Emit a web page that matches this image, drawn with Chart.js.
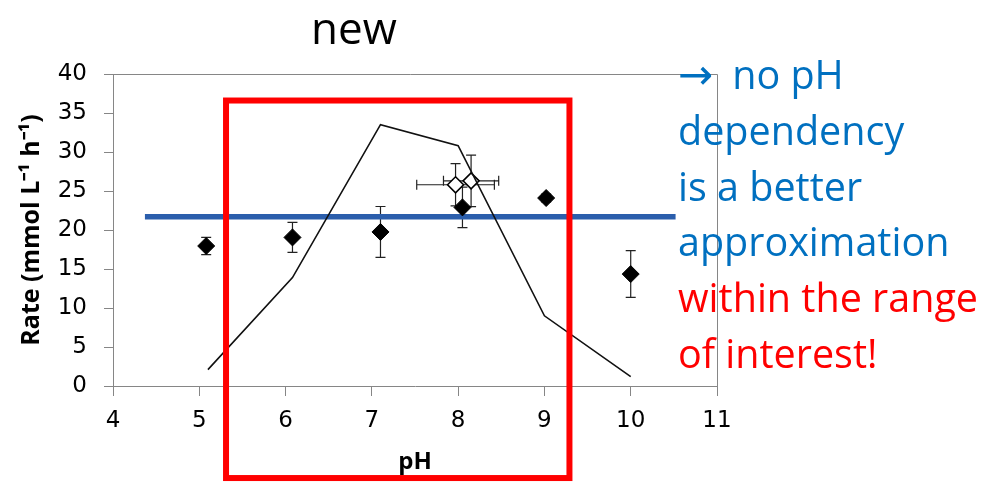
<!DOCTYPE html>
<html>
<head>
<meta charset="utf-8">
<script src="https://cdn.jsdelivr.net/npm/chart.js@4/dist/chart.umd.min.js"></script>
<style>
  body { margin: 0; background: #fff; }
  #wrap { position: relative; width: 1000px; height: 486px; overflow: hidden; }
  #wrap canvas { position: absolute; left: 0; top: 0; }
  .title { position: absolute; left: 254px; width: 200px; top: 5px; text-align: center;
           font: 44px "Open Sans", sans-serif; line-height: 44px; color: #000; }
  .note { position: absolute; left: 678px; top: 47px; font: 39.5px "Open Sans", sans-serif;
          line-height: 55.8px; white-space: nowrap; }
  .arrow { font-family: "DejaVu Sans"; font-size: 42px; margin-right: 19px; }
  .blue { color: #0070c0; }
  .red { color: #ff0000; }
</style>
</head>
<body>
<div id="wrap">
  <canvas id="rateChart"></canvas>
  <div class="title">new</div>
  <div class="note">
    <div class="blue"><span class="arrow">→</span>no pH</div>
    <div class="blue">dependency</div>
    <div class="blue">is a better</div>
    <div class="blue">approximation</div>
    <div class="red">within the range</div>
    <div class="red">of interest!</div>
  </div>
</div>
<script>
// ====== DATOS ======
const phMeasured = [5.08, 6.08, 7.10, 8.05, 9.02, 10.0];
const rateMeasured = [17.95, 19.05, 19.75, 22.9, 24.1, 14.35];
const rateMeasuredErr = [1.1, 1.93, 3.26, 2.6, 0.5, 3.0];

const phNew = [7.97, 8.15];
const rateNew = [25.8, 26.3];
const rateNewErr = [2.7, 3.3];
const phNewErr = [0.45, 0.32];

const phModel = [5.1, 6.08, 7.1, 8.0, 9.0, 10.0];
const rateModel = [2.1, 13.9, 33.5, 30.8, 9.0, 1.2];

const phFlat = [4.37, 10.52];
const rateFlat = [21.7, 21.7];

// rango de interés (cuadro rojo), en unidades de los ejes
const boxPh = [5.31, 9.29];
const boxRate = [-11.8, 36.6];

const xTicks = [4, 5, 6, 7, 8, 9, 10, 11];
const yTicks = [0, 5, 10, 15, 20, 25, 30, 35, 40];

const toPoints = (xs, ys) => xs.map((x, i) => ({ x: x, y: ys[i] }));
const axisGray = "#868686";

// ====== BARRAS DE ERROR ======
const errorBars = {
    id: "errorBars",
    beforeDatasetsDraw(chart) {
        const { ctx, scales: { x, y } } = chart;
        ctx.save();
        ctx.strokeStyle = "#222";
        ctx.lineWidth = 1.2;
        chart.data.datasets.forEach(ds => {
            if (!ds.yErr && !ds.xErr) return;
            ds.data.forEach((p, i) => {
                const px = x.getPixelForValue(p.x);
                const py = y.getPixelForValue(p.y);
                ctx.beginPath();
                if (ds.yErr) {
                    const top = y.getPixelForValue(p.y + ds.yErr[i]);
                    const bot = y.getPixelForValue(p.y - ds.yErr[i]);
                    ctx.moveTo(px, top); ctx.lineTo(px, bot);
                    ctx.moveTo(px - 5, top); ctx.lineTo(px + 5, top);
                    ctx.moveTo(px - 5, bot); ctx.lineTo(px + 5, bot);
                }
                if (ds.xErr) {
                    const l = x.getPixelForValue(p.x - ds.xErr[i]);
                    const r = x.getPixelForValue(p.x + ds.xErr[i]);
                    ctx.moveTo(l, py); ctx.lineTo(r, py);
                    ctx.moveTo(l, py - 5); ctx.lineTo(l, py + 5);
                    ctx.moveTo(r, py - 5); ctx.lineTo(r, py + 5);
                }
                ctx.stroke();
            });
        });
        ctx.restore();
    }
};

// ====== MARCO Y CUADRO ROJO ======
const frameAndBox = {
    id: "frameAndBox",
    beforeDatasetsDraw(chart) {
        const { ctx, chartArea: a } = chart;
        ctx.save();
        ctx.strokeStyle = axisGray;
        ctx.lineWidth = 1;
        ctx.beginPath();
        ctx.moveTo(a.left - 9, a.top + 0.5);
        ctx.lineTo(a.right + 0.5, a.top + 0.5);
        ctx.lineTo(a.right + 0.5, a.bottom);
        ctx.stroke();
        ctx.restore();
    },
    afterDraw(chart) {
        const { ctx, scales: { x, y } } = chart;
        const l = x.getPixelForValue(boxPh[0]);
        const r = x.getPixelForValue(boxPh[1]);
        const t = y.getPixelForValue(boxRate[1]);
        const b = y.getPixelForValue(boxRate[0]);
        ctx.save();
        ctx.strokeStyle = "#ff0000";
        ctx.lineWidth = 6;
        ctx.strokeRect(l, t, r - l, b - t);
        ctx.restore();
    }
};

new Chart(document.getElementById("rateChart"), {
    type: "scatter",
    data: {
        datasets: [
            {
                label: "model",
                data: toPoints(phModel, rateModel),
                showLine: true,
                borderColor: "#111",
                borderWidth: 1.6,
                pointRadius: 0,
                order: 0
            },
            {
                label: "measured",
                data: toPoints(phMeasured, rateMeasured),
                yErr: rateMeasuredErr,
                pointStyle: "rectRot",
                pointRadius: 8.5,
                backgroundColor: "#000",
                borderColor: "#000",
                borderWidth: 1,
                order: 1
            },
            {
                label: "new",
                data: toPoints(phNew, rateNew),
                yErr: rateNewErr,
                xErr: phNewErr,
                pointStyle: "rectRot",
                pointRadius: 8,
                backgroundColor: "#fff",
                borderColor: "#000",
                borderWidth: 1.6,
                order: 2
            },
            {
                label: "flat",
                data: toPoints(phFlat, rateFlat),
                showLine: true,
                borderColor: "#2b5eac",
                borderWidth: 5.5,
                pointRadius: 0,
                order: 3
            }
        ]
    },
    options: {
        responsive: true,
        maintainAspectRatio: false,
        animation: false,
        layout: { padding: { top: 74, right: 283, left: 0, bottom: 0 } },
        plugins: { legend: { display: false }, tooltip: { enabled: false } },
        scales: {
            x: {
                type: "linear",
                min: 4, max: 11,
                afterFit: s => { s.height = 100; },
                afterBuildTicks: s => { s.ticks = xTicks.map(v => ({ value: v })); },
                grid: { drawOnChartArea: false, color: axisGray, tickLength: 10 },
                border: { color: axisGray },
                ticks: { color: "#000", font: { family: "DejaVu Sans", size: 23 }, padding: 11 },
                title: {
                    display: true, text: "pH", color: "#000",
                    font: { family: "Open Sans", size: 24, weight: "bold" },
                    padding: { top: 0, bottom: 9 }
                }
            },
            y: {
                min: 0, max: 40,
                afterFit: s => { s.width = 113; },
                afterBuildTicks: s => { s.ticks = yTicks.map(v => ({ value: v })); },
                grid: { drawOnChartArea: false, color: axisGray, tickLength: 9 },
                border: { color: axisGray },
                ticks: { color: "#000", font: { family: "DejaVu Sans", size: 23 }, padding: 17 },
                title: {
                    display: true, text: "Rate (mmol L⁻¹ h⁻¹)", color: "#000",
                    font: { family: "Open Sans", size: 25, weight: "bold" },
                    padding: { top: 17, bottom: 0 }
                }
            }
        }
    },
    plugins: [errorBars, frameAndBox]
});
</script>
</body>
</html>
